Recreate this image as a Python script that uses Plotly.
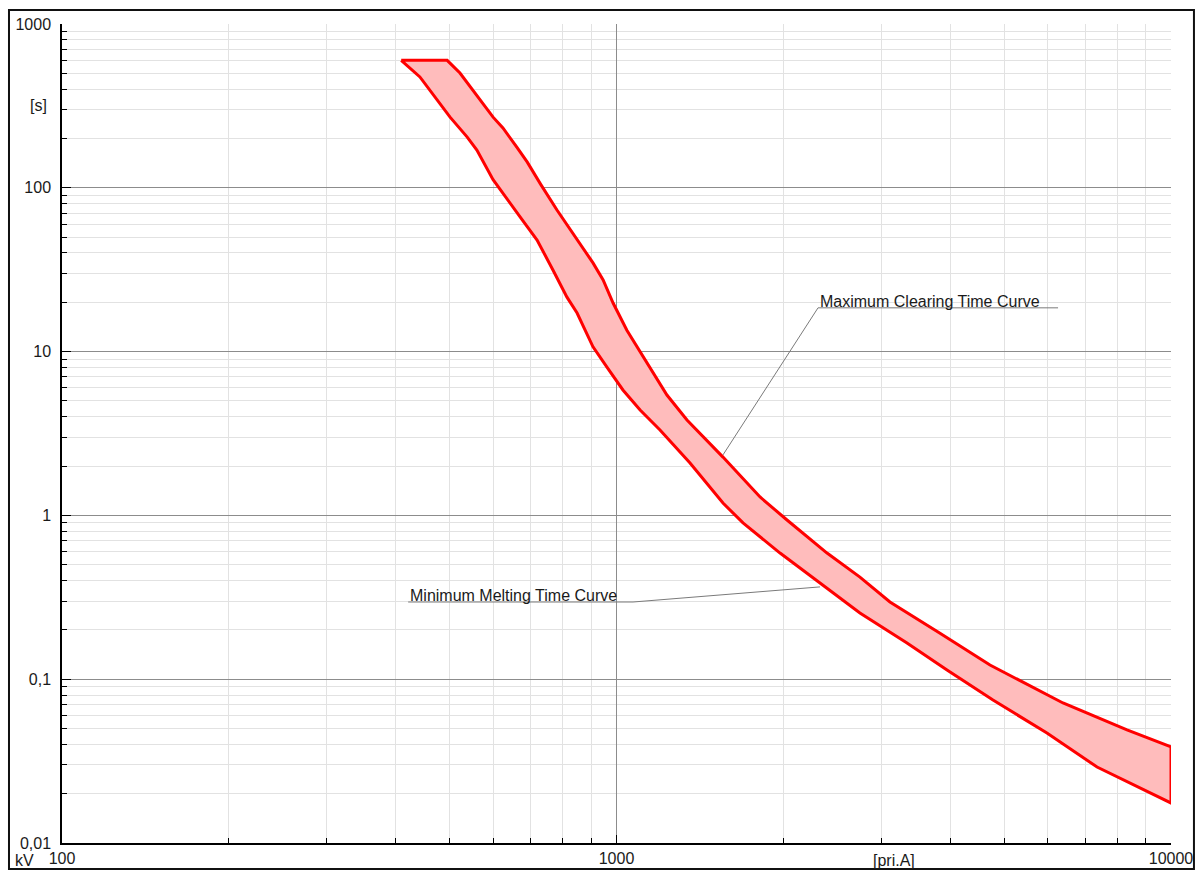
import numpy as np
import plotly.graph_objects as go

# Minimum melting time curve: current [A] and time [s]
melt_current = [409, 442, 501, 538, 560, 599, 670, 719, 768, 814, 849, 907, 961, 1027,
                1103, 1198, 1357, 1556, 1691, 1972, 2328, 2748, 3341, 3945, 4775, 5974,
                7356, 10000]
melt_time = [600, 475, 270, 204, 170, 112, 66.4, 48.0, 31.5, 21.5, 17.2, 10.7, 8.05, 5.83,
             4.40, 3.32, 2.09, 1.19, 0.90, 0.589, 0.387, 0.2536, 0.1664, 0.1138, 0.0746,
             0.0469, 0.0291, 0.01754]

# Maximum clearing time curve: current [A] and time [s]
clear_current = [495, 522, 560, 599, 624, 661, 690, 730, 781, 849, 907, 946, 986, 1044,
                 1135, 1233, 1340, 1556, 1815, 2030, 2397, 2748, 3113, 3832, 4716, 6386,
                 8330, 10000]
clear_time = [600, 502, 368, 270, 232, 177, 144, 105, 73.2, 48.0, 34.8, 27.4, 19.8, 13.5,
              8.5, 5.43, 3.82, 2.27, 1.295, 0.937, 0.589, 0.42, 0.296, 0.191, 0.122, 0.0716,
              0.049, 0.0386]

# Axis ticks
x_major = [100, 1000, 10000]
x_major_text = ["100", "1000", "10000"]
y_major = [0.01, 0.1, 1, 10, 100, 1000]
y_major_text = ["0,01", "0,1", "1", "10", "100", "1000"]
x_minor = [m * d for d in (100, 1000) for m in range(2, 10)]
y_minor = [m * d for d in (0.01, 0.1, 1, 10, 100) for m in range(2, 10)]

FONT = "Liberation Sans, Arial, Helvetica, sans-serif"
RED = "#ff0000"
BAND = "#ffbcbc"
LEADER = "#7a7a7a"

# Callout anchor points (current, time)
clear_label_at = (2309, 18.5)
clear_label_end = 6256
clear_curve_pt = (1556, 2.34)
melt_label_at = (421, 0.296)
melt_label_end = 1071
melt_curve_pt = (2328, 0.366)

fig = go.Figure()

# Band between the two curves as a closed polygon
band_x = melt_current + clear_current[::-1] + [melt_current[0]]
band_y = melt_time + clear_time[::-1] + [melt_time[0]]
fig.add_trace(go.Scatter(
    x=band_x, y=band_y, mode="lines", fill="toself", fillcolor=BAND,
    line=dict(color=RED, width=3), hoverinfo="skip"))

# Leader lines for the callouts
fig.add_trace(go.Scatter(
    x=[clear_label_end, clear_label_at[0], clear_curve_pt[0]],
    y=[clear_label_at[1], clear_label_at[1], clear_curve_pt[1]],
    mode="lines", line=dict(color=LEADER, width=1), hoverinfo="skip"))
fig.add_trace(go.Scatter(
    x=[melt_label_at[0], melt_label_end, melt_curve_pt[0]],
    y=[melt_label_at[1], melt_label_at[1], melt_curve_pt[1]],
    mode="lines", line=dict(color=LEADER, width=1), hoverinfo="skip"))

annotations = [
    dict(text="Maximum Clearing Time Curve", xref="x", yref="y",
         x=np.log10(clear_label_at[0]), y=np.log10(clear_label_at[1]),
         xanchor="left", yanchor="bottom", showarrow=False, yshift=-4),
    dict(text="Minimum Melting Time Curve", xref="x", yref="y",
         x=np.log10(melt_label_at[0]), y=np.log10(melt_label_at[1]),
         xanchor="left", yanchor="bottom", showarrow=False, yshift=-4),
    dict(text="[s]", xref="paper", yref="y", x=-0.012, y=2.5,
         xanchor="right", yanchor="middle", showarrow=False),
    dict(text="[pri.A]", xref="x", yref="paper", x=3.5, y=-0.021,
         xanchor="center", yanchor="middle", showarrow=False),
    dict(text="kV", xref="paper", yref="paper", x=-0.034, y=-0.021,
         xanchor="center", yanchor="middle", showarrow=False),
]

fig.update_layout(
    width=1196, height=871,
    margin=dict(l=62, r=25, t=24, b=28, autoexpand=False),
    paper_bgcolor="white", plot_bgcolor="white",
    showlegend=False,
    font=dict(family=FONT, size=16, color="#1a1a1a"),
    annotations=annotations,
    shapes=[dict(type="rect", xref="paper", yref="paper",
                 x0=-0.0478, x1=1.0207, y0=-0.0317, y1=1.0171,
                 line=dict(color="#111111", width=2), layer="above")],
)

fig.update_xaxes(
    type="log", range=[2, 4], automargin=False,
    tickmode="array", tickvals=x_major, ticktext=x_major_text,
    showline=True, linecolor="black", linewidth=1.5,
    ticks="inside", ticklen=8, tickcolor="black", ticklabelstandoff=0,
    showgrid=True, gridcolor="#8c8c8c", gridwidth=1,
    zeroline=False, mirror=False,
    minor=dict(tickmode="array", tickvals=x_minor, ticks="inside", ticklen=5,
               tickcolor="black", showgrid=True, gridcolor="#e2e2e2", gridwidth=1),
)
fig.update_yaxes(
    type="log", range=[-2, 3], automargin=False,
    tickmode="array", tickvals=y_major, ticktext=y_major_text,
    showline=True, linecolor="black", linewidth=1.5,
    ticks="inside", ticklen=9, tickcolor="black", ticklabelstandoff=6,
    showgrid=True, gridcolor="#8c8c8c", gridwidth=1,
    zeroline=False, mirror=False,
    minor=dict(tickmode="array", tickvals=y_minor, ticks="inside", ticklen=5,
               tickcolor="black", showgrid=True, gridcolor="#e2e2e2", gridwidth=1),
)

fig.write_html("out.html")
